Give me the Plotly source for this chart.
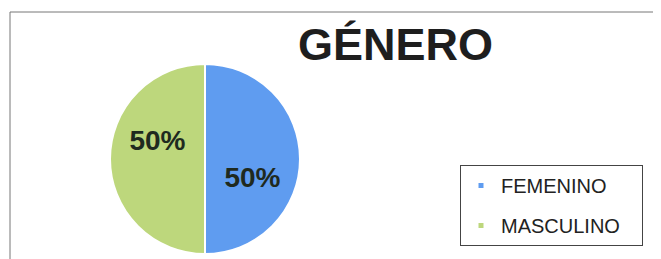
import plotly.graph_objects as go

# page body has an 8px margin, so the figure is 8px smaller than the window
W, H = 653, 251
categories = ["FEMENINO", "MASCULINO"]
values = [50, 50]
colors = ["#5f9cf0", "#bdd77c"]
title = "GÉNERO"

# per-slice label layout (a blank line nudges the text down / up inside its slice)
label_templates = [" <br>%{percent:.0%}", "%{percent:.0%}<br> "]

fig = go.Figure()
fig.add_trace(go.Pie(
    labels=categories, values=values, sort=False, direction="clockwise", rotation=0,
    marker=dict(colors=colors, line=dict(color="white", width=2)),
    texttemplate=label_templates, textposition="inside", insidetextorientation="horizontal",
    textfont=dict(family="Liberation Sans", size=28, color="#1f2a1f", weight="bold"),
    domain=dict(x=[102 / W, 292 / W], y=[(H - 248) / H, (H - 54) / H]),
    hoverinfo="label+percent", showlegend=False,
))

# legend entries (one per category, same colours as the slices); trailing spaces widen the box
for name, col in zip(categories, colors):
    fig.add_trace(go.Scatter(x=[None], y=[None], mode="markers", name=name + "\u00a0" * 3,
                             legendgroup=name,
                             marker=dict(symbol="square", size=5, color=col), hoverinfo="skip"))

fig.update_layout(
    width=W, height=H,
    margin=dict(l=0, r=0, t=0, b=0),
    paper_bgcolor="white", plot_bgcolor="white",
    xaxis=dict(visible=False), yaxis=dict(visible=False),
    showlegend=True,
    legend=dict(x=452 / W, y=(H - 157) / H, xanchor="left", yanchor="top",
                bordercolor="#444", borderwidth=1, bgcolor="rgba(0,0,0,0)",
                tracegroupgap=11,
                font=dict(family="Liberation Sans", size=20, color="#222")),
    annotations=[dict(text="<b>" + title + "</b>", x=387 / W, y=(H - 37) / H, xref="paper", yref="paper",
                      showarrow=False, xanchor="center", yanchor="middle",
                      font=dict(family="Liberation Sans", size=45, color="#1e1e1e"))],
    shapes=[dict(type="rect", xref="paper", yref="paper", x0=2 / W, x1=1.05, y0=-0.1, y1=(H - 4) / H,
                 line=dict(color="#777", width=1))],
)

fig.write_html("out.html")
